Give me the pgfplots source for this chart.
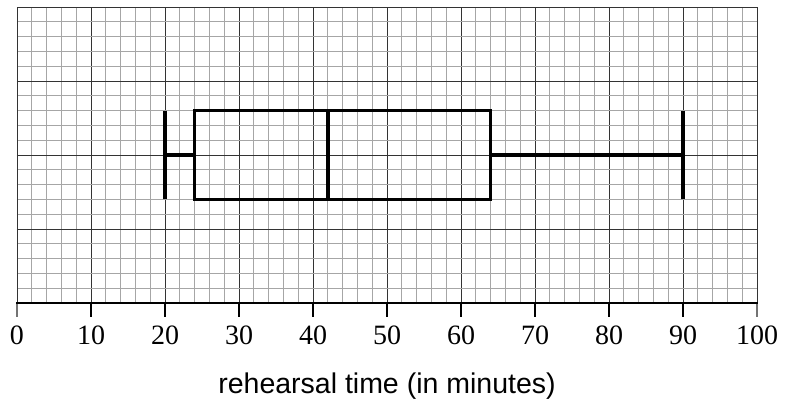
\documentclass[border=0pt]{standalone}
\usepackage{pgfplots}
\pgfplotsset{compat=1.18}
\usepackage{fontspec}
\setmainfont{Liberation Serif}
\newfontfamily\arial{Liberation Sans}
\begin{document}
\begin{tikzpicture}
\begin{axis}[
  at={(0,0)}, anchor=origin,
  x=7.4pt, y=7.4pt,
  xmin=0, xmax=100, ymin=0, ymax=40,
  xtick={0,10,...,100},
  ytick={10,20,30},
  yticklabels={},
  minor xtick={0,2,...,100},
  minor ytick={0,2,...,40},
  xtick pos=bottom,
  ytick pos=left,
  tick align=outside,
  major tick length=14pt,
  every major y tick/.style={draw=none},
  every minor tick/.style={draw=none},
  grid=both,
  major grid style={black!80, line width=0.8pt},
  minor grid style={black!35, line width=0.8pt},
  axis line style={black!80, line width=0.8pt},
  /pgf/number format/assume math mode=true,
  xticklabel style={font=\fontsize{28}{34}\selectfont, yshift=-5pt},
  xlabel={rehearsal time (in minutes)},
  xlabel style={font=\arial\fontsize{28.5}{34}\selectfont, at={(axis description cs:0.5,0)}, anchor=base, yshift=-90pt},
]
\addplot[black, line width=3.5pt, line join=miter] coordinates {(44,14) (64,14) (64,26) (24,26) (24,14) (44,14)};
\addplot[black, line width=3.5pt] coordinates {(42,14) (42,26)};
\addplot[black, line width=3.5pt] coordinates {(20,20) (24,20)};
\addplot[black, line width=3.5pt] coordinates {(64,20) (90,20)};
\addplot[black, line width=3.5pt] coordinates {(20,14) (20,26)};
\addplot[black, line width=3.5pt] coordinates {(90,14) (90,26)};
\end{axis}
\fill[black] (72.8pt,0pt) rectangle (75.2pt,-14pt);
\fill[black] (146.8pt,0pt) rectangle (149.2pt,-14pt);
\fill[black] (220.8pt,0pt) rectangle (223.2pt,-14pt);
\fill[black] (294.8pt,0pt) rectangle (297.2pt,-14pt);
\fill[black] (368.8pt,0pt) rectangle (371.2pt,-14pt);
\fill[black] (442.8pt,0pt) rectangle (445.2pt,-14pt);
\fill[black] (516.8pt,0pt) rectangle (519.2pt,-14pt);
\fill[black] (590.8pt,0pt) rectangle (593.2pt,-14pt);
\fill[black] (664.8pt,0pt) rectangle (667.2pt,-14pt);
\fill[black!55] (-0.6pt,0pt) rectangle (0.6pt,-14pt);
\fill[black!55] (739.4pt,0pt) rectangle (740.6pt,-14pt);
\draw[black, line width=2pt] (-0.6pt,0pt) -- (740.6pt,0pt);
\pgfresetboundingbox
\path (-17pt,-111pt) rectangle (772pt,303pt);
\end{tikzpicture}
\end{document}
